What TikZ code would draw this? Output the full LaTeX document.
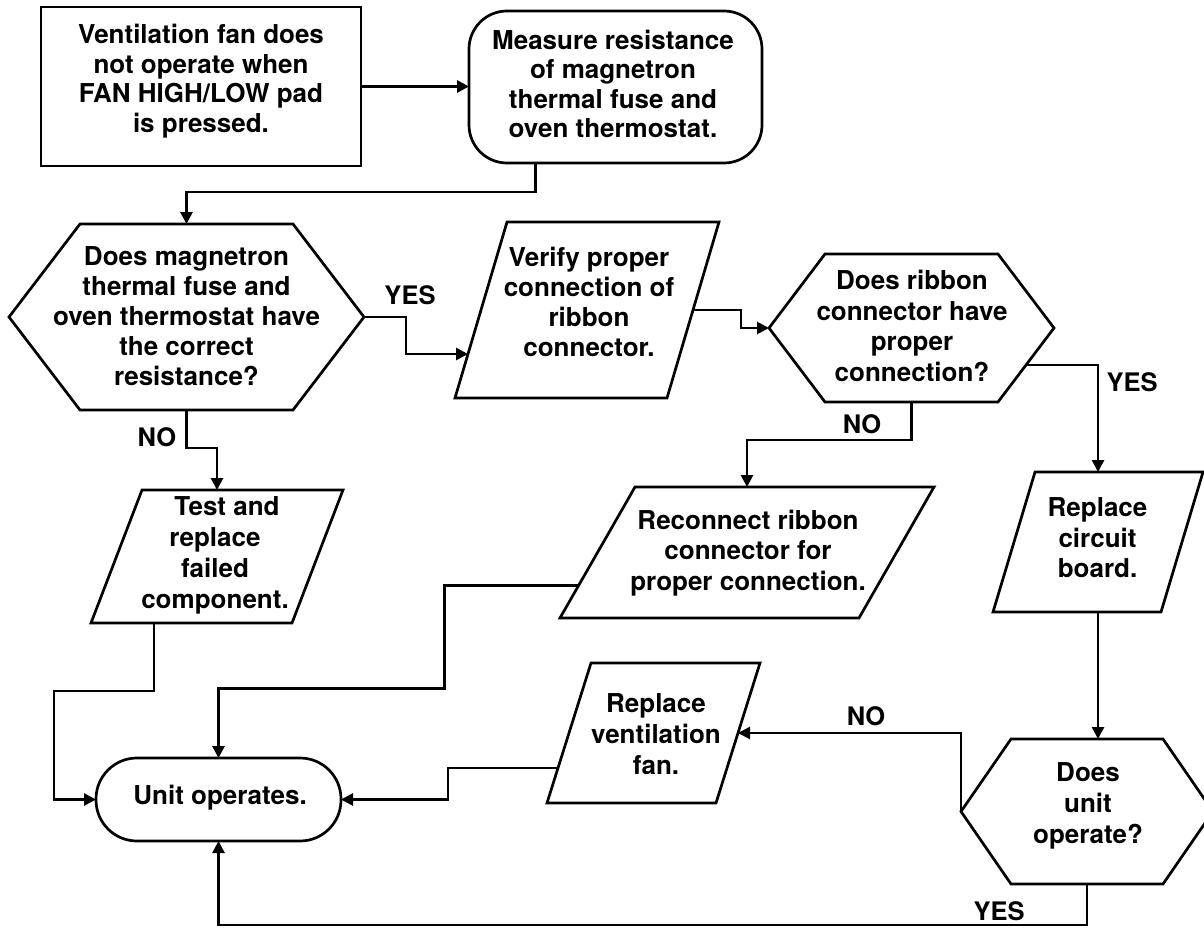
\documentclass[tikz,border=0pt]{standalone}
\usepackage{fontspec}
\setmainfont{TeX Gyre Heros}
\usetikzlibrary{arrows.meta,calc}
\begin{document}
\begin{tikzpicture}[x=1pt,y=-1pt,
  lw/.style={line width=2.7pt},
  outline/.style={draw=black, lw, line join=miter, miter limit=10},
  shapeframe/.style={draw=none, inner sep=0pt, outer sep=0pt},
  rectframe/.style={draw=black, lw, inner sep=0pt, outer sep=0pt},
  txt/.style={align=center, inner sep=0pt, font=\bfseries\fontsize{26pt}{#1}\selectfont},
  txt/.default=30pt,
  lab/.style={inner sep=0pt, font=\bfseries\fontsize{25.5pt}{30pt}\selectfont},
  conn/.style={lw, line join=miter, -{Triangle[length=12pt,width=12pt]}}
]
\useasboundingbox (0,0) rectangle (1204,928);
\fill[white] (0,0) rectangle (1204,928);
\clip (0,0) rectangle (1204,928);

% start box
\node[rectframe, minimum width=320pt, minimum height=159pt] (start) at (201,86.5) {};
\node[txt=29.5pt] (startT) at (201,81) {Ventilation fan does\\not operate when\\FAN HIGH/LOW pad\\is pressed.};

% measure box
\node[rectframe, rounded corners=38pt, minimum width=293pt, minimum height=152pt] (measure) at (615.5,87) {};
\node[txt=29.5pt] (measureT) at (613,84) {Measure resistance\\of magnetron\\thermal fuse and\\oven thermostat.};

% hexagon 1
\node[shapeframe, minimum width=355pt, minimum height=186pt] (hex1) at (186.5,317) {};
\draw[outline] (hex1.west) -- ([xshift=71pt]hex1.north west) -- ([xshift=-71pt]hex1.north east) -- (hex1.east) -- ([xshift=-71pt]hex1.south east) -- ([xshift=71pt]hex1.south west) -- cycle;
\node[txt] (hex1T) at (186.5,316) {Does magnetron\\thermal fuse and\\oven thermostat have\\the correct\\resistance?};

% verify
\node[shapeframe, minimum width=264pt, minimum height=176pt] (verify) at (587,310) {};
\coordinate (vtl) at ([xshift=52pt]verify.north west);
\coordinate (vbr) at ([xshift=-52pt]verify.south east);
\draw[outline] (verify.south west) -- (vtl) -- (verify.north east) -- (vbr) -- cycle;
\node[txt] (verifyT) at (589,302) {Verify proper\\connection of\\ribbon\\connector.};

% hexagon 2
\node[shapeframe, minimum width=285pt, minimum height=148pt] (hex2) at (911.5,328) {};
\coordinate (h2br) at ([xshift=-56pt]hex2.south east);
\draw[outline] (hex2.west) -- ([xshift=56pt]hex2.north west) -- ([xshift=-56pt]hex2.north east) -- (hex2.east) -- (h2br) -- ([xshift=56pt]hex2.south west) -- cycle;
\node[txt=30.5pt] (hex2T) at (912,326) {Does ribbon\\connector have\\proper\\connection?};

% test and replace
\node[shapeframe, minimum width=252pt, minimum height=133pt] (test) at (217,556.5) {};
\coordinate (ttl) at ([xshift=51pt]test.north west);
\coordinate (tbr) at ([xshift=-51pt]test.south east);
\draw[outline] (test.south west) -- (ttl) -- (test.north east) -- (tbr) -- cycle;
\node[txt=31pt] (testT) at (215,555) {\hspace*{24pt}Test and\\replace\\failed\\component.};

% reconnect
\node[shapeframe, minimum width=374pt, minimum height=131pt] (reco) at (747,552.5) {};
\coordinate (rtl) at ([xshift=75pt]reco.north west);
\coordinate (rbr) at ([xshift=-75pt]reco.south east);
\draw[outline] (reco.south west) -- (rtl) -- (reco.north east) -- (rbr) -- cycle;
\node[txt=30.5pt] (recoT) at (748,553) {Reconnect ribbon\\connector for\\proper connection.};

% replace circuit board
\node[shapeframe, minimum width=210pt, minimum height=140pt] (circ) at (1098,542) {};
\coordinate (ctl) at ([xshift=42pt]circ.north west);
\coordinate (cbr) at ([xshift=-42pt]circ.south east);
\draw[outline] (circ.south west) -- (ctl) -- (circ.north east) -- (cbr) -- cycle;
\node[txt=30.5pt] (circT) at (1097.5,538) {Replace\\circuit\\board.};

% replace ventilation fan
\node[shapeframe, minimum width=213pt, minimum height=140pt] (fan) at (653.5,733) {};
\coordinate (ftl) at ([xshift=44pt]fan.north west);
\coordinate (fbr) at ([xshift=-44pt]fan.south east);
\draw[outline] (fan.south west) -- (ftl) -- (fan.north east) -- (fbr) -- cycle;
\node[txt=31pt] (fanT) at (656,734) {Replace\\ventilation\\fan.};

% unit operates
\node[rectframe, rounded corners=41pt, minimum width=245pt, minimum height=83pt] (unit) at (218.5,799.5) {};
\node[txt] (unitT) at (220,798) {Unit operates.};

% hexagon 3
\node[shapeframe, minimum width=252pt, minimum height=145pt] (hex3) at (1087,811.5) {};
\draw[outline] (hex3.west) -- ([xshift=50pt]hex3.north west) -- ([xshift=-50pt]hex3.north east) -- (hex3.east) -- ([xshift=-50pt]hex3.south east) -- ([xshift=50pt]hex3.south west) -- cycle;
\node[txt=31pt] (hex3T) at (1088,806) {Does\\unit\\operate?};

% connectors
\draw[conn] (start.east) -- (start.east -| measure.west);
\draw[conn] ([xshift=-80pt]measure.south) -- ++(0,29) -| (hex1.north);
\draw[conn] (hex1.east) -- ++(42,0) |- ($(verify.south west)!0.25!(vtl)$);
\draw[conn] ($(vbr)!0.5!(verify.north east)$) -- ++(48,0) |- (hex2.west);
\draw[conn] (hex2.south) -- ++(0,38) -| (reco.north);
\draw[conn] ($(hex2.east)!0.5!(h2br)$) -| (circ.north);
\draw[conn] (hex1.south) -- ++(0,38) -| (test.north);
\draw[conn] ([xshift=63pt]test.south west) -- ++(0,68) -- ++(-100,0) |- (unit.west);
\draw[conn] ($(reco.south west)!0.25!(rtl)$) -- ++(-134,0) -- ++(0,103) -| (unit.north);
\draw[conn] ($(fan.south west)!0.25!(ftl)$) -- ++(-110,0) |- (unit.east);
\draw[conn] (circ.south) -- (circ.south |- hex3.north);
\draw[conn] (hex3.west) |- ($(fbr)!0.5!(fan.north east)$);
\draw[conn] (hex3.south) -- ++(0,41) -| (unit.south);

% labels
\node[lab] (yes1) at (410,295) {YES};
\node[lab] (no1) at (157,437) {NO};
\node[lab] (no2) at (862,424) {NO};
\node[lab] (yes2) at (1132,382) {YES};
\node[lab] (no3) at (866,716) {NO};
\node[lab] (yes3) at (999,911) {YES};
\end{tikzpicture}
\end{document}
